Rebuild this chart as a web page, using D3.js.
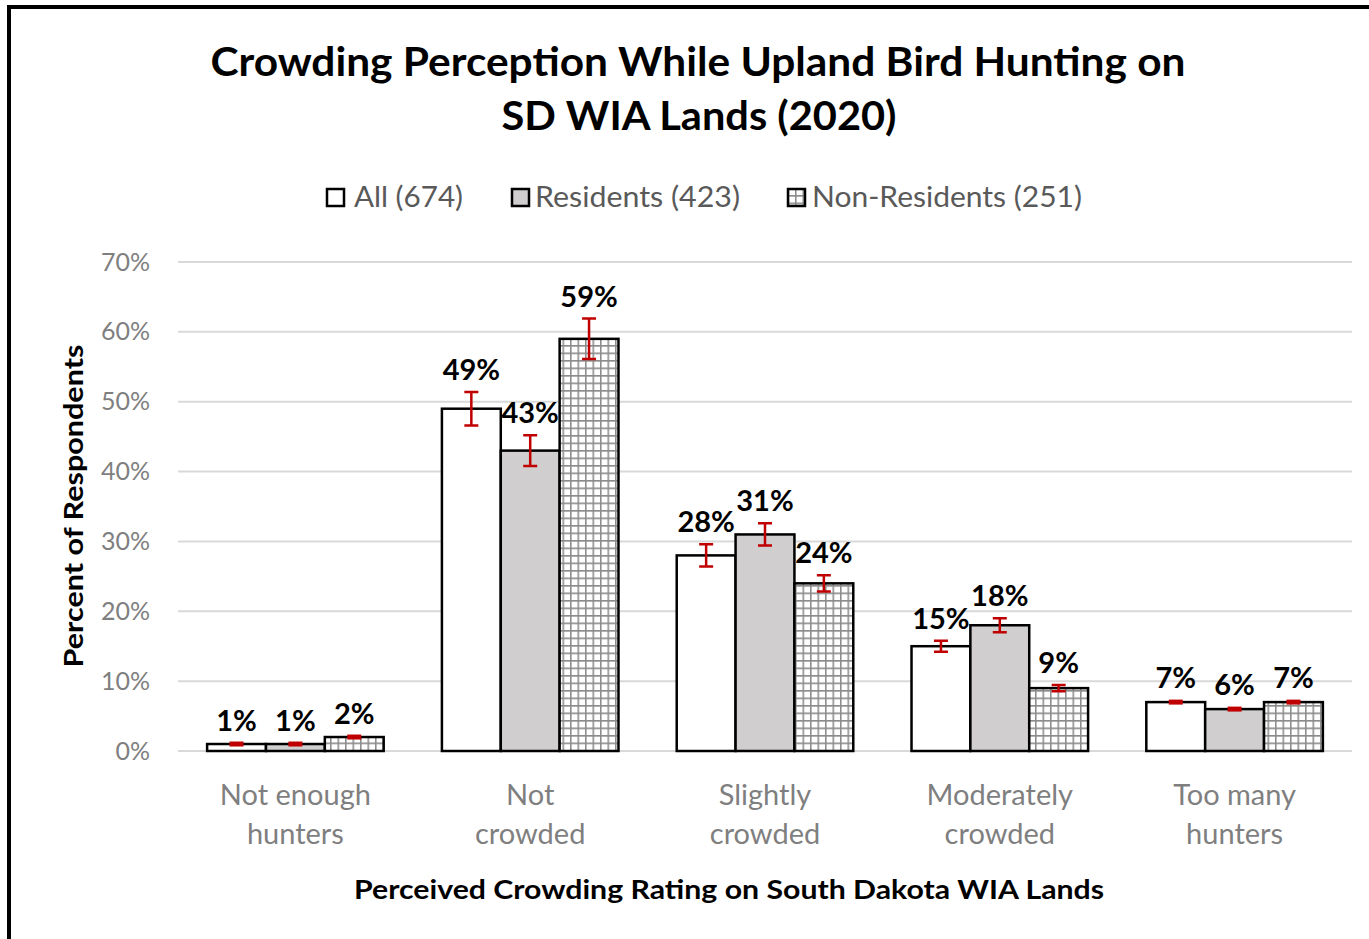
<!DOCTYPE html>
<html><head><meta charset="utf-8">
<script src="https://cdn.jsdelivr.net/npm/d3@7"></script>
<style>body{margin:0;background:#fff}svg{display:block}</style>
</head><body>
<script>
const categories = [["Not enough","hunters"],["Not","crowded"],["Slightly","crowded"],["Moderately","crowded"],["Too many","hunters"]];
const seriesNames = ["All (674)","Residents (423)","Non-Residents (251)"];
const allValues = [1,49,28,15,7];
const residentValues = [1,43,31,18,6];
const nonResidentValues = [2,59,24,9,7];
const allErrors = [0.2,2.4,1.6,0.8,0.3];
const residentErrors = [0.2,2.2,1.6,1.0,0.25];
const nonResidentErrors = [0.2,2.9,1.15,0.45,0.3];
const yTicks = [0,10,20,30,40,50,60,70];

const W=1369,H=939;
const svg=d3.select("body").append("svg").attr("width",W).attr("height",H);
const defs=svg.append("defs");
const pat=defs.append("pattern").attr("id","grid").attr("patternUnits","userSpaceOnUse")
  .attr("width",7.5).attr("height",7.5);
pat.append("rect").attr("width",7.5).attr("height",7.5).attr("fill","#fff");
pat.append("path").attr("d","M0,0.75H7.5M0.75,0V7.5").attr("stroke","#8c8c8c").attr("stroke-width",1.6);

svg.append("rect").attr("x",9).attr("y",7).attr("width",1400).attr("height",1000)
  .attr("fill","#fff").attr("stroke","#000").attr("stroke-width",4);

const font="Lato, 'Open Sans', sans-serif";
const x0=178,x1=1352,yb=751,yt=262;
const x=d3.scaleBand().domain(d3.range(categories.length)).range([x0,x1]).paddingInner(0.248).paddingOuter(0.124);
const xs=d3.scaleBand().domain([0,1,2]).range([0,x.bandwidth()]);
const y=d3.scaleLinear().domain([0,70]).range([yb,yt]);

// title
const title=svg.append("text").attr("text-anchor","middle").attr("font-family",font).attr("font-weight","bold")
  .attr("font-size",40).attr("fill","#000");
title.append("tspan").attr("x",698).attr("y",76).attr("textLength",975).attr("lengthAdjust","spacingAndGlyphs")
  .text("Crowding Perception While Upland Bird Hunting on");
title.append("tspan").attr("x",699).attr("y",130).attr("textLength",395).attr("lengthAdjust","spacingAndGlyphs")
  .text("SD WIA Lands (2020)");

// gridlines
const yAxis=d3.axisLeft(y).tickValues(yTicks).tickFormat(d=>d+"%").tickSize(0).tickPadding(28);
const gy=svg.append("g").attr("transform",`translate(${x0},0)`).call(yAxis);
gy.select(".domain").remove();
gy.selectAll("text").attr("font-family",font).attr("font-size",25).attr("fill","#7f7f7f");
svg.append("g").selectAll("line").data(yTicks).join("line")
  .attr("x1",x0).attr("x2",x1).attr("y1",d=>y(d)).attr("y2",d=>y(d))
  .attr("stroke","#d9d9d9").attr("stroke-width",2);

const series=[
  {vals:allValues,errs:allErrors,fill:"#fff"},
  {vals:residentValues,errs:residentErrors,fill:"#d0cece"},
  {vals:nonResidentValues,errs:nonResidentErrors,fill:"url(#grid)"}];

series.forEach((s,si)=>{
  const g=svg.append("g");
  g.selectAll("rect").data(s.vals).join("rect")
    .attr("x",(d,i)=>x(i)+xs(si)).attr("width",xs.bandwidth())
    .attr("y",d=>y(d)).attr("height",d=>yb-y(d))
    .attr("fill",s.fill).attr("stroke","#000").attr("stroke-width",2.5);
});
series.forEach((s,si)=>{
  const g=svg.append("g");
  s.vals.forEach((v,i)=>{
    const cx=x(i)+xs(si)+xs.bandwidth()/2, e=s.errs[i];
    const y1=y(v+e),y2=y(v-e);
    const p=g.append("path").attr("stroke","#c00000").attr("stroke-width",2.5).attr("fill","none");
    if(y2-y1<5){
      g.append("rect").attr("x",cx-7).attr("y",(y1+y2)/2-2.5).attr("width",14).attr("height",5).attr("fill","#c00000");
    } else {
      p.attr("d",`M${cx-7},${y1}H${cx+7}M${cx},${y1}V${y2}M${cx-7},${y2}H${cx+7}`);
    }
    g.append("text").attr("x",cx).attr("y",y1-12).attr("text-anchor","middle")
      .attr("font-family",font).attr("font-weight","bold").attr("font-size",29).attr("fill","#000")
      .text(v+"%");
  });
});

// category labels
const cg=svg.append("g");
categories.forEach((c,i)=>{
  const t=cg.append("text").attr("text-anchor","middle").attr("font-family",font).attr("font-size",29).attr("fill","#7f7f7f");
  c.forEach((ln,k)=>t.append("tspan").attr("x",x(i)+x.bandwidth()/2).attr("y",805+k*39).text(ln));
});

// axis titles
svg.append("text").attr("x",729).attr("y",899).attr("text-anchor","middle").attr("font-family",font)
  .attr("font-weight","bold").attr("font-size",27).attr("textLength",750).attr("lengthAdjust","spacingAndGlyphs")
  .text("Perceived Crowding Rating on South Dakota WIA Lands");
svg.append("text").attr("transform","translate(83,506) rotate(-90)").attr("text-anchor","middle").attr("font-family",font)
  .attr("font-weight","bold").attr("font-size",27).attr("textLength",323).attr("lengthAdjust","spacingAndGlyphs")
  .text("Percent of Respondents");

// legend
const legX=[327,512,788], legTX=[354,535,812], legW=[109,205,270];
const fills=["#fff","#d0cece","url(#grid)"];
seriesNames.forEach((n,i)=>{
  svg.append("rect").attr("x",legX[i]).attr("y",189).attr("width",17).attr("height",17)
    .attr("fill",fills[i]).attr("stroke","#000").attr("stroke-width",2.5);
  svg.append("text").attr("x",legTX[i]).attr("y",207).attr("font-family",font).attr("font-size",28)
    .attr("fill","#595959").attr("textLength",legW[i]).attr("lengthAdjust","spacingAndGlyphs").text(n);
});
</script>
</body></html>
